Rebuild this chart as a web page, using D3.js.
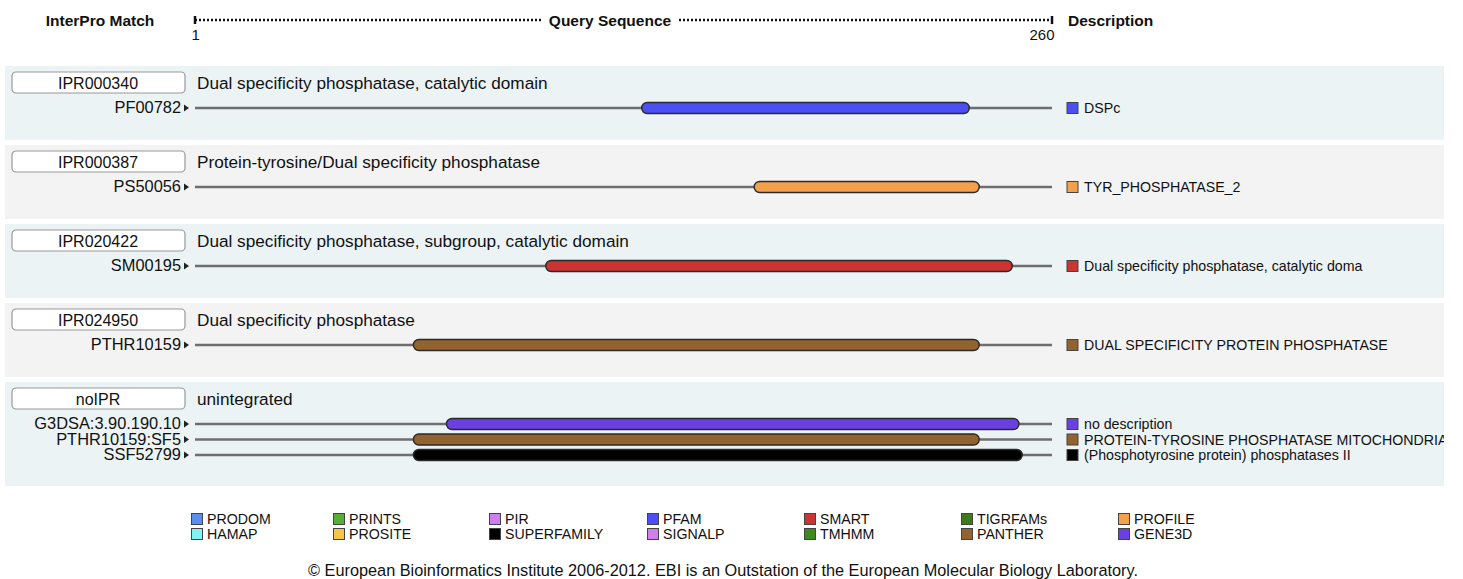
<!DOCTYPE html>
<html>
<head>
<meta charset="utf-8">
<script src="https://cdn.jsdelivr.net/npm/d3@7"></script>
<style>
body { margin:0; background:#fff; font-family:"Liberation Sans", Arial, Helvetica, sans-serif; }
svg text { fill:#111; }
.hdr { font-weight:bold; font-size:15.5px; }
</style>
</head>
<body>
<script>
//query length and entries
var seqLength = 260;
var entryIds = ["IPR000340","IPR000387","IPR020422","IPR024950","noIPR"];
var entryNames = ["Dual specificity phosphatase, catalytic domain",
                  "Protein-tyrosine/Dual specificity phosphatase",
                  "Dual specificity phosphatase, subgroup, catalytic domain",
                  "Dual specificity phosphatase",
                  "unintegrated"];

//signature matches (entry index, db, start, end, description)
var sigIds   = ["PF00782","PS50056","SM00195","PTHR10159","G3DSA:3.90.190.10","PTHR10159:SF5","SSF52799"];
var sigEntry = [0,1,2,3,4,4,4];
var sigDb    = ["PFAM","PROFILE","SMART","PANTHER","GENE3D","PANTHER","SUPERFAMILY"];
var sigStart = [136,170,107,67,77,67,67];
var sigEnd   = [235,238,248,238,250,238,251];
var sigDesc  = ["DSPc","TYR_PHOSPHATASE_2","Dual specificity phosphatase, catalytic doma",
                "DUAL SPECIFICITY PROTEIN PHOSPHATASE","no description",
                "PROTEIN-TYROSINE PHOSPHATASE MITOCHONDRIAL","(Phosphotyrosine protein) phosphatases II"];

//legend databases, two per column
var dbNames  = ["PRODOM","HAMAP","PRINTS","PROSITE","PIR","SUPERFAMILY","PFAM","SIGNALP",
                "SMART","TMHMM","TIGRFAMs","PANTHER","PROFILE","GENE3D"];
var dbColors = ["#5a8ff0","#7ff4f2","#55b033","#f7c443","#cc7ff0","#000000","#4b4ff4","#cc80e8",
                "#cc3333","#3f8a1a","#3f7a1a","#93632f","#f5a04c","#6a40e2"];

window.onload = draw();

function draw(){
    var width = 1463, height = 579;

    var svg = d3.select("body").append("svg")
        .attr("width", width)
        .attr("height", height);

    var x = d3.scaleLinear().domain([1, seqLength]).range([195, 1052]);
    var color = d3.scaleOrdinal().domain(dbNames).range(dbColors);

    //header
    svg.append("text").attr("class","hdr").attr("x",100).attr("y",25.5)
        .attr("text-anchor","middle").text("InterPro Match");
    svg.append("line").attr("x1",x(1)).attr("x2",x(seqLength)).attr("y1",20).attr("y2",20)
        .attr("stroke","#111").attr("stroke-width",2.5).attr("stroke-dasharray","2,2");
    svg.selectAll(".endTick").data([1, seqLength]).enter().append("line")
        .attr("x1", function(d){ return x(d); }).attr("x2", function(d){ return x(d); })
        .attr("y1",16).attr("y2",24).attr("stroke","#111").attr("stroke-width",2.5);
    var qs = svg.append("text").attr("class","hdr").attr("x",610).attr("y",25.5)
        .attr("text-anchor","middle").text("Query Sequence");
    var bb = qs.node().getBBox();
    svg.append("rect").attr("x",bb.x-6).attr("y",12).attr("width",bb.width+12).attr("height",14).attr("fill","#fff");
    qs.raise();
    svg.append("text").attr("class","hdr").attr("x",1068).attr("y",25.5).text("Description");

    var axis = d3.axisBottom(x).tickValues([1, seqLength]).tickSize(0).tickPadding(0)
        .tickFormat(d3.format("d"));
    var ag = svg.append("g").attr("transform","translate(0,29)").call(axis);
    ag.select(".domain").remove();
    ag.selectAll("text").attr("font-size",15).attr("font-family","Liberation Sans, Arial")
        .attr("fill","#111")
        .attr("text-anchor", function(d){ return d == 1 ? "start" : "end"; })
        .attr("dx", function(d){ return d == 1 ? "-4" : "2"; });

    //row geometry
    var trackGap = 15.5;
    var rowTop = [], t = 66;
    entryIds.forEach(function(e, i){
        var n = sigEntry.filter(function(s){ return s == i; }).length;
        var h = 74 + (n - 1) * 15;
        rowTop.push({top:t, h:h});
        t += h + 5;
    });

    var rows = svg.selectAll(".row").data(entryIds).enter().append("g")
        .attr("class","row")
        .attr("transform", function(d,i){ return "translate(0," + rowTop[i].top + ")"; });

    rows.append("rect").attr("x",5).attr("y",0).attr("width",1439)
        .attr("height", function(d,i){ return rowTop[i].h; })
        .attr("fill", function(d,i){ return i % 2 == 0 ? "#ebf3f5" : "#f3f3f3"; });

    rows.append("rect").attr("x",12).attr("y",6).attr("width",173).attr("height",21)
        .attr("rx",4).attr("fill","#fff").attr("stroke","#999").attr("stroke-width",1.2);
    rows.append("text").attr("x",98).attr("y",22.5).attr("text-anchor","middle")
        .attr("font-size",16).text(function(d){ return d; });
    rows.append("text").attr("x",197).attr("y",22.5).attr("font-size",17.2)
        .text(function(d,i){ return entryNames[i]; });

    //tracks
    var sigIdx = d3.range(sigIds.length);
    var tracks = svg.selectAll(".track").data(sigIdx).enter().append("g")
        .attr("class","track")
        .attr("clip-path","url(#clipTrack)")
        .attr("transform", function(i){
            var e = sigEntry[i];
            var k = sigIdx.filter(function(j){ return sigEntry[j] == e && j < i; }).length;
            return "translate(0," + (rowTop[e].top + 42 + k * trackGap) + ")";
        });
    svg.append("defs").append("clipPath").attr("id","clipTrack").append("rect")
        .attr("x",0).attr("y",-20).attr("width",1444).attr("height",40);

    tracks.append("text").attr("x",181).attr("y",5.3).attr("text-anchor","end")
        .attr("font-size",16.4).text(function(i){ return sigIds[i]; });
    tracks.append("path").attr("d","M184,-3.5L189,0L184,3.5Z").attr("fill","#222");
    tracks.append("line").attr("x1",x(1)).attr("x2",x(seqLength)).attr("y1",0).attr("y2",0)
        .attr("stroke","#6e6e6e").attr("stroke-width",2.5);
    tracks.append("rect")
        .attr("x", function(i){ return x(sigStart[i]); })
        .attr("width", function(i){ return x(sigEnd[i]) - x(sigStart[i]); })
        .attr("y",-5.5).attr("height",11).attr("rx",5.5)
        .attr("fill", function(i){ return color(sigDb[i]); })
        .attr("stroke","#2a2a2a").attr("stroke-width",1.4);
    tracks.append("rect").attr("x",1067).attr("y",-5.5).attr("width",11).attr("height",11)
        .attr("fill", function(i){ return color(sigDb[i]); })
        .attr("stroke","#444").attr("stroke-width",1);
    tracks.append("text").attr("x",1084).attr("y",5).attr("font-size",14.2)
        .text(function(i){ return sigDesc[i]; });

    //legend
    var colX = [191, 333, 489, 647, 804, 961, 1118];
    var leg = svg.selectAll(".leg").data(dbNames).enter().append("g")
        .attr("class","leg")
        .attr("transform", function(d,i){
            return "translate(" + colX[Math.floor(i/2)] + "," + (519 + (i % 2) * 15) + ")";
        });
    leg.append("rect").attr("x",0.5).attr("y",-5.5).attr("width",11).attr("height",11)
        .attr("fill", function(d){ return color(d); })
        .attr("stroke","#444").attr("stroke-width",1);
    leg.append("text").attr("x",16).attr("y",5).attr("font-size",14.2)
        .text(function(d){ return d; });

    svg.append("text").attr("x",723).attr("y",575.5).attr("text-anchor","middle")
        .attr("font-size",16.3)
        .text("© European Bioinformatics Institute 2006-2012. EBI is an Outstation of the European Molecular Biology Laboratory.");
}
</script>
</body>
</html>
